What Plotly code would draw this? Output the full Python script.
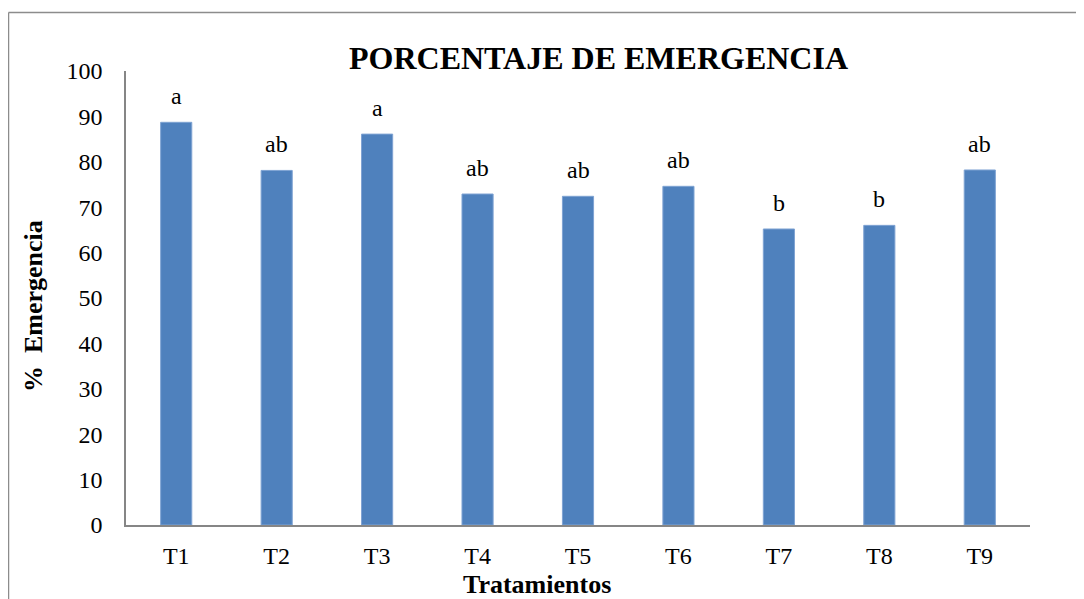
import plotly.graph_objects as go

categories = ["T1", "T2", "T3", "T4", "T5", "T6", "T7", "T8", "T9"]
emergencia = [88.7, 78.1, 86.1, 72.9, 72.4, 74.6, 65.2, 66.0, 78.2]
letters = ["a", "ab", "a", "ab", "ab", "ab", "b", "b", "ab"]
y_ticks = [0, 10, 20, 30, 40, 50, 60, 70, 80, 90, 100]

FONT = "Liberation Serif"
OFF = 8  # page body margin
W, H = 1076, 591
L, R, T, B = 118, 54, 63, 74
pw, ph = W - L - R, H - T - B

def px_x(x):
    return (x - OFF - L) / pw

def px_y(y):
    return (H - B - (y - OFF)) / ph

fig = go.Figure()
fig.add_trace(go.Bar(
    x=categories, y=emergencia,
    marker=dict(color="#4F81BD", line=dict(color="#7FA3D3", width=1)),
    width=0.31, showlegend=False, hoverinfo="x+y",
))

annotations = []
for c, v, l in zip(categories, emergencia, letters):
    annotations.append(dict(x=c, y=v, xref="x", yref="y", text=l, showarrow=False,
                            yanchor="bottom", yshift=11,
                            font=dict(family=FONT, size=24, color="black")))

annotations += [
    dict(text="<b>PORCENTAJE DE EMERGENCIA</b>", x=px_x(598), y=px_y(58), xref="paper", yref="paper",
         showarrow=False, xanchor="center", yanchor="middle",
         font=dict(family=FONT, size=32, color="black")),
    dict(text="<b>%&nbsp;&nbsp;Emergencia</b>", x=px_x(33), y=px_y(306), xref="paper", yref="paper",
         showarrow=False, xanchor="center", yanchor="middle", textangle=-90,
         font=dict(family=FONT, size=26, color="black")),
    dict(text="<b>Tratamientos</b>", x=px_x(537), y=px_y(584), xref="paper", yref="paper",
         showarrow=False, xanchor="center", yanchor="middle",
         font=dict(family=FONT, size=26, color="black")),
]

shapes = [
    dict(type="line", xref="paper", yref="paper", x0=px_x(8.5), x1=px_x(1100), y0=px_y(12.5), y1=px_y(12.5),
         line=dict(color="#8C8C8C", width=1.5)),
    dict(type="line", xref="paper", yref="paper", x0=px_x(8.5), x1=px_x(8.5), y0=px_y(12.5), y1=px_y(620),
         line=dict(color="#8C8C8C", width=1.5)),
]

fig.update_layout(
    width=W, height=H,
    margin=dict(l=L, r=R, t=T, b=B),
    paper_bgcolor="white", plot_bgcolor="white",
    font=dict(family=FONT, size=24, color="black"),
    annotations=annotations, shapes=shapes,
    xaxis=dict(showline=True, linecolor="#868686", linewidth=1.5, showgrid=False,
               ticks="", tickfont=dict(family=FONT, size=24, color="black"),
               ticklabelstandoff=8, fixedrange=True),
    yaxis=dict(range=[0, 100], tickvals=y_ticks, showline=True, linecolor="#868686", linewidth=1.5,
               showgrid=False, zeroline=False, ticks="",
               tickfont=dict(family=FONT, size=24, color="black"),
               ticklabelstandoff=17, fixedrange=True),
)

fig.write_html("out.html")
